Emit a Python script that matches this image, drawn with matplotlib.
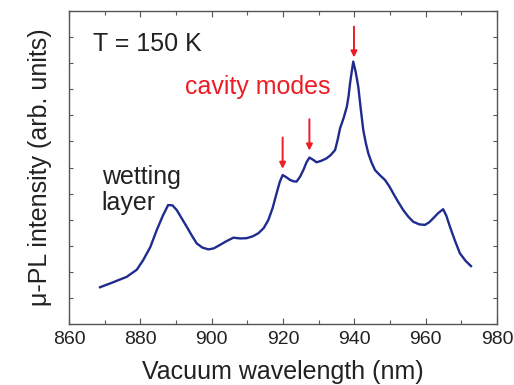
import matplotlib
matplotlib.use("Agg")
import matplotlib.pyplot as plt
from matplotlib.ticker import MultipleLocator, NullFormatter

plt.rcParams['font.family'] = ['Liberation Sans', 'DejaVu Sans']

# Micro-PL spectrum (wavelength in nm, intensity in arbitrary units)
wavelength = [868.7, 872.0, 876.2, 879.0, 880.8, 882.8, 884.6, 886.3, 887.8, 889.0,
              890.2, 891.6, 893.0, 894.4, 895.8, 897.4, 899.1, 900.6, 902.3, 904.2,
              906.1, 908.0, 909.8, 911.5, 913.1, 914.6, 915.9, 917.1, 918.2, 919.1,
              919.9, 921.0, 922.0, 923.0, 923.8, 924.8, 925.7, 926.6, 927.4, 928.4,
              929.4, 930.8, 932.2, 933.4, 934.6, 935.3, 936.0, 937.0, 937.9, 938.4,
              938.8, 939.3, 939.7, 940.4, 941.1, 941.8, 942.5, 943.2, 943.9, 944.8,
              945.8, 947.2, 948.6, 949.8, 950.9, 952.3, 953.7, 955.1, 956.5, 958.2,
              959.8, 961.0, 962.1, 963.5, 964.9, 965.8, 966.8, 968.2, 969.6, 971.2,
              972.7]
intensity = [1.41, 1.58, 1.81, 2.08, 2.45, 2.95, 3.60, 4.15, 4.56, 4.55,
             4.37, 4.05, 3.73, 3.40, 3.09, 2.93, 2.86, 2.90, 3.03, 3.18,
             3.31, 3.28, 3.29, 3.36, 3.48, 3.68, 3.99, 4.45, 5.01, 5.45,
             5.71, 5.62, 5.52, 5.47, 5.46, 5.65, 5.90, 6.20, 6.38, 6.30,
             6.20, 6.26, 6.35, 6.48, 6.67, 7.05, 7.50, 7.90, 8.33, 8.75,
             9.23, 9.70, 10.06, 9.65, 9.10, 8.25, 7.44, 6.95, 6.55, 6.20,
             5.90, 5.70, 5.52, 5.28, 5.01, 4.68, 4.37, 4.12, 3.92, 3.82,
             3.80, 3.90, 4.05, 4.25, 4.40, 4.15, 3.73, 3.20, 2.71, 2.42,
             2.22]

# Cavity-mode markers: wavelength, arrow top, arrow tip
mode_wavelength = [919.9, 927.4, 939.9]
arrow_top = [7.15, 7.85, 11.40]
arrow_tip = [5.95, 6.65, 10.22]

x_ticks = [860, 880, 900, 920, 940, 960, 980]

fig = plt.figure(figsize=(5.14, 3.85), dpi=100)
ax = fig.add_axes([69 / 514, 1 - 324 / 385, 428 / 514, 313 / 385])

ax.plot(wavelength, intensity, color='#1f2b8f', lw=1.7, solid_joinstyle='round')

for wl, top, tip in zip(mode_wavelength, arrow_top, arrow_tip):
    ax.annotate('', xy=(wl, tip), xytext=(wl, top),
                arrowprops=dict(arrowstyle='-|>', color='#ee1c25', lw=1.4,
                                mutation_scale=9, shrinkA=0, shrinkB=0))

ax.set_xlim(860, 980)
ax.set_ylim(0, 12)
ax.set_xticks(x_ticks)
ax.xaxis.set_minor_locator(MultipleLocator(10))
ax.yaxis.set_major_locator(MultipleLocator(1))
ax.yaxis.set_major_formatter(NullFormatter())

ax.tick_params(axis='both', which='both', direction='in', top=True, right=True,
               color='#555555', width=0.8)
ax.tick_params(axis='x', which='major', length=4, labelsize=14, pad=5, labelcolor='#222222')
ax.tick_params(axis='x', which='minor', length=3)
ax.tick_params(axis='y', which='major', length=3)
for s in ax.spines.values():
    s.set_color('#555555')
    s.set_linewidth(1.0)

ax.set_xlabel('Vacuum wavelength (nm)', fontsize=18, color='#222222', labelpad=9)
ax.set_ylabel('\u03bc-PL intensity (arb. units)', fontsize=18, color='#222222', labelpad=9)

ax.text(866.7, 10.45, 'T = 150 K', fontsize=18, color='#222222', va='baseline')
ax.text(892.4, 8.8, 'cavity modes', fontsize=18, color='#ee1c25', va='baseline')
ax.text(869.2, 4.37, 'wetting\nlayer', fontsize=18, color='#222222', va='baseline',
        linespacing=1.12)

fig.savefig('out.png', dpi=100)
